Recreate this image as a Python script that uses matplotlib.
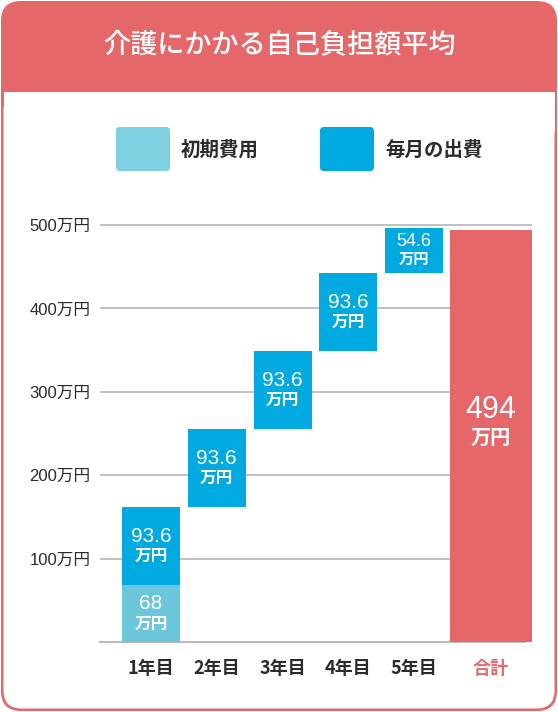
import matplotlib
matplotlib.use("Agg")
import matplotlib.pyplot as plt
from matplotlib.patches import FancyBboxPatch, Rectangle
import numpy as np

plt.rcParams['font.family'] = ['Noto Sans CJK JP', 'DejaVu Sans']
NUMFONT = ['Liberation Sans', 'Noto Sans CJK JP', 'DejaVu Sans']

# data
title = "介護にかかる自己負担額平均"
years = ["1年目", "2年目", "3年目", "4年目", "5年目"]
initial_cost = [68, 0, 0, 0, 0]
monthly_cost = [93.6, 93.6, 93.6, 93.6, 54.6]
total_label = "合計"
total_value = 494
yticks = [100, 200, 300, 400, 500]
ytick_labels = ["100万円", "200万円", "300万円", "400万円", "500万円"]
legend_labels = ["初期費用", "毎月の出費"]

CORAL = "#E6676A"
LIGHT = "#6CC6DC"
LIGHT_LEG = "#7ECFDF"
BLUE = "#00A9E0"
GRID = "#BBBBBB"
TEXT = "#2B2B2B"

W, H = 558, 712
fig = plt.figure(figsize=(W / 100, H / 100), dpi=100)

# background frame in pixel coords
bg = fig.add_axes([0, 0, 1, 1], zorder=0)
bg.set_xlim(0, W)
bg.set_ylim(H, 0)
bg.axis("off")
bg.add_patch(FancyBboxPatch((1, 1), W - 2, H - 2,
	boxstyle="round,pad=0,rounding_size=20", fc=CORAL, ec=CORAL, lw=0))
bg.add_patch(FancyBboxPatch((3.5, 92), W - 7, H - 92 - 3.5,
	boxstyle="round,pad=0,rounding_size=18", fc="white", ec="none"))
bg.add_patch(Rectangle((3.5, 92), W - 7, 40, fc="white", ec="none"))
bg.text(W / 2, 46, title, color="white", fontsize=19.5, fontweight="medium",
	ha="center", va="center")

# legend
for x0, col, lab in [(116, LIGHT_LEG, legend_labels[0]), (320, BLUE, legend_labels[1])]:
	bg.add_patch(FancyBboxPatch((x0, 127), 54, 44,
		boxstyle="round,pad=0,rounding_size=4", fc=col, ec="none"))
	bg.text(x0 + 65, 150, lab, color=TEXT, fontsize=14, fontweight="bold",
		ha="left", va="center")

# main chart axes
ax_left, ax_right = 100, 532
y0_px, y500_px = 642, 225
ymax = 520
ppu = (y0_px - y500_px) / 500.0
top_px = y0_px - ymax * ppu
ax = fig.add_axes([ax_left / W, 1 - y0_px / H, (ax_right - ax_left) / W,
	(y0_px - top_px) / H], zorder=1)
ax.patch.set_alpha(0)

step = 65.75
x = np.arange(len(years))
x_total = (491 - 151) / step
bar_w = 58 / step
ax.set_xlim((ax_left - 151) / step, (ax_right - 151) / step)
ax.set_ylim(0, ymax)

# waterfall
bottoms = np.cumsum([0] + [a + b for a, b in zip(initial_cost, monthly_cost)])[:-1]
ax.bar(x, initial_cost, bottom=bottoms, width=bar_w, color=LIGHT, zorder=3)
mb = bottoms + np.array(initial_cost)
ax.bar(x, monthly_cost, bottom=mb, width=bar_w, color=BLUE, zorder=3)
ax.bar([x_total], [total_value], width=82 / step, color=CORAL, zorder=3)

def fmt(v):
	return ("%.1f" % v).rstrip("0").rstrip(".")

def two_line(xp, yc, num, s1, s2, gap=7.2):
	ax.annotate(num, (xp, yc), xytext=(0, gap), textcoords="offset points",
		ha="center", va="center", color="white", fontsize=s1,
		family=NUMFONT, zorder=4)
	ax.annotate("万円", (xp, yc), xytext=(0, -gap), textcoords="offset points",
		ha="center", va="center", color="white", fontsize=s2,
		fontweight="bold", zorder=4)

for i in range(len(years)):
	if initial_cost[i] > 0:
		two_line(x[i], bottoms[i] + initial_cost[i] / 2, fmt(initial_cost[i]), 15, 12)
	gap = 7.2 if monthly_cost[i] > 80 else 6.0
	s1 = 15 if monthly_cost[i] > 80 else 13
	s2 = 12 if monthly_cost[i] > 80 else 11
	two_line(x[i], mb[i] + monthly_cost[i] / 2, fmt(monthly_cost[i]), s1, s2, gap)
two_line(x_total, total_value / 2 + 15, str(total_value), 22, 14.5, 10)

# grid and axes
ax.set_yticks(yticks)
ax.set_yticklabels(ytick_labels, fontsize=12, color=TEXT, family=NUMFONT)
ax.tick_params(axis="y", length=0, pad=7)
ax.grid(axis="y", color=GRID, lw=1.3, zorder=0)
for s in ["top", "right", "left"]:
	ax.spines[s].set_visible(False)
ax.spines["bottom"].set_color(GRID)
ax.spines["bottom"].set_linewidth(1.5)
ax.spines["bottom"].set_bounds((ax_left - 151) / step, (525 - 151) / step)

ax.set_xticks(list(x) + [x_total])
ax.set_xticklabels(years + [total_label], fontsize=13, color=TEXT, fontweight="bold")
ax.get_xticklabels()[-1].set_color(CORAL)
ax.tick_params(axis="x", length=0, pad=12)
ax.set_xticks(x[:4], minor=True)
ax.tick_params(axis="x", which="minor", length=9, width=1, color=GRID)

fig.savefig("out.png", dpi=100)
